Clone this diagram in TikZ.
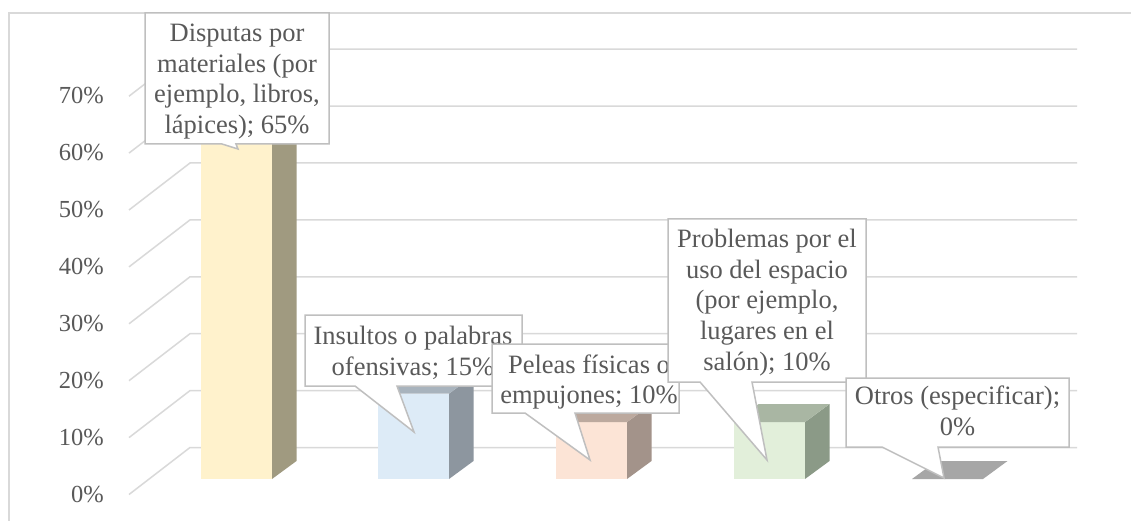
\documentclass[tikz,border=0pt]{standalone}
\usepackage{fontspec}
\setmainfont{Liberation Serif}
\definecolor{txt}{HTML}{595959}
\definecolor{gridc}{HTML}{D9D9D9}
\definecolor{cborder}{HTML}{BFBFBF}
\definecolor{yF}{HTML}{FFF2CC}\definecolor{yS}{HTML}{A09A80}\definecolor{yT}{HTML}{BFB699}
\definecolor{bF}{HTML}{DDEBF7}\definecolor{bS}{HTML}{8D969F}\definecolor{bT}{HTML}{A8B3BD}
\definecolor{pF}{HTML}{FCE4D6}\definecolor{pS}{HTML}{A3938A}\definecolor{pT}{HTML}{BCA99E}
\definecolor{gF}{HTML}{E2EFDA}\definecolor{gS}{HTML}{8B9A87}\definecolor{gT}{HTML}{A9B6A3}
\definecolor{oT}{HTML}{A6A6A6}
\newcommand\drawbar[5]{%
  \pgfmathsetmacro{\bt}{479-5.69*#2}%
  \fill[#3] (#1,479) rectangle (#1+71,\bt);
  \fill[#4] (#1+71,479) -- (#1+95.5,461) -- (#1+95.5,\bt-18) -- (#1+71,\bt) -- cycle;
  \fill[#5] (#1,\bt) -- (#1+24.5,\bt-18) -- (#1+95.5,\bt-18) -- (#1+71,\bt) -- cycle;
}
\begin{document}
\begin{tikzpicture}[x=1pt,y=-1pt,
  gridline/.style={draw=gridc,line width=1.5pt},
  callout/.style={draw=cborder,fill=white,line width=1.5pt,line join=miter},
  lbl/.style={text=txt,font=\fontsize{26.5}{30.6}\selectfont,align=center,inner sep=0pt},
  axislbl/.style={text=txt,font=\fontsize{24.5}{29}\selectfont,inner sep=0pt}]
\useasboundingbox (0,0) rectangle (1131,521);
\fill[white] (0,0) rectangle (1131,521);
\draw[gridline] (1131,13) -- (9,13) -- (9,521);
\foreach \k in {0,...,7}{
  \pgfmathsetmacro{\fy}{494.5-56.9*\k}
  \pgfmathsetmacro{\by}{447.5-56.9*\k}
  \pgfmathtruncatemacro{\pct}{10*\k}
  \draw[gridline] (129,\fy) -- (190,\by) -- (1077,\by);
  \node[axislbl,anchor=base east] (ax\k) at (104,\fy+7.5) {\pct\%};
}
\drawbar{201}{65}{yF}{yS}{yT}
\drawbar{378}{15}{bF}{bS}{bT}
\drawbar{556}{10}{pF}{pS}{pT}
\drawbar{734}{10}{gF}{gS}{gT}
\fill[oT] (912,479) -- (936.5,461) -- (1007.5,461) -- (983,479) -- cycle;
% callouts
\draw[callout] (145,13) -- (329,13) -- (329,144) -- (236,144) -- (238,149) -- (222,144) -- (145,144) -- cycle;
\node[lbl] (c1) at (237,81.7) {Disputas por\\materiales (por\\ejemplo, libros,\\lápices); 65\%};
\draw[callout] (305,315) -- (522,315) -- (522,386) -- (397,386) -- (414,432) -- (355,386) -- (305,386) -- cycle;
\node[lbl] (c2) at (413,353) {Insultos o palabras\\ofensivas; 15\%};
\draw[callout] (492,344) -- (679,344) -- (679,413) -- (575,413) -- (590,460) -- (525,413) -- (492,413) -- cycle;
\node[lbl] (c3) at (589,382) {Peleas físicas o\\empujones; 10\%};
\draw[callout] (668,219) -- (866,219) -- (866,382) -- (752,382) -- (767,460) -- (700,382) -- (668,382) -- cycle;
\node[lbl] (c4) at (767,302.5) {Problemas por el\\uso del espacio\\(por ejemplo,\\lugares en el\\salón); 10\%};
\draw[callout] (846,378) -- (1069,378) -- (1069,447) -- (938,447) -- (944,478) -- (882,447) -- (846,447) -- cycle;
\node[lbl] (c5) at (957.5,411) {Otros (especificar);\\0\%};
\end{tikzpicture}
\end{document}
